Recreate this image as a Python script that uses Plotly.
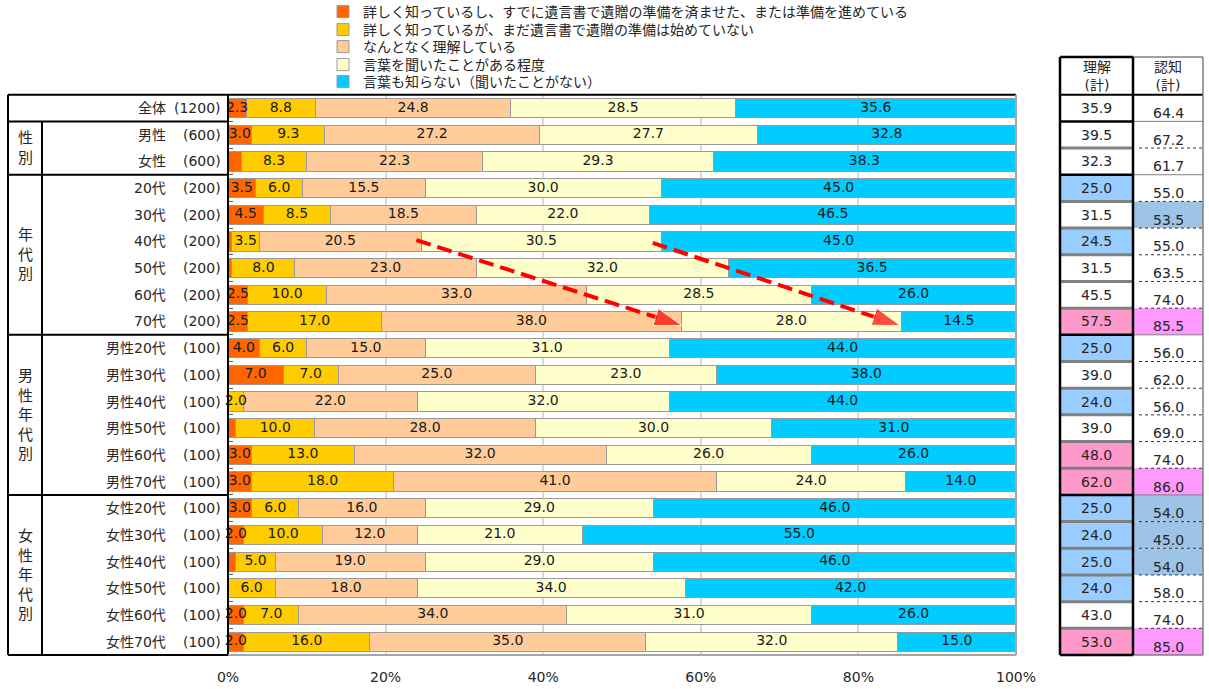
import plotly.graph_objects as go

# ---- data -----------------------------------------------------------------
row_names = ["全体", "男性", "女性", "20代", "30代", "40代", "50代", "60代", "70代",
             "男性20代", "男性30代", "男性40代", "男性50代", "男性60代", "男性70代",
             "女性20代", "女性30代", "女性40代", "女性50代", "女性60代", "女性70代"]
sample_sizes = [1200, 600, 600, 200, 200, 200, 200, 200, 200,
                100, 100, 100, 100, 100, 100, 100, 100, 100, 100, 100, 100]

# (label, first row, last row) of each grouping column block
row_groups = [("性<br>別", 1, 2), ("年<br>代<br>別", 3, 8),
              ("男<br>性<br>年<br>代<br>別", 9, 14), ("女<br>性<br>年<br>代<br>別", 15, 20)]

series_names = ["詳しく知っているし、すでに遺言書で遺贈の準備を済ませた、または準備を進めている",
                "詳しく知っているが、まだ遺言書で遺贈の準備は始めていない",
                "なんとなく理解している",
                "言葉を聞いたことがある程度",
                "言葉も知らない（聞いたことがない）"]
series_colors = ["#FF6600", "#FFCC00", "#FFCC99", "#FFFFCC", "#00CCFF"]

detail_prepared = [2.3, 3.0, 1.7, 3.5, 4.5, 0.5, 0.5, 2.5, 2.5,
                   4.0, 7.0, 0.0, 1.0, 3.0, 3.0, 3.0, 2.0, 1.0, 0.0, 2.0, 2.0]
detail_not_started = [8.8, 9.3, 8.3, 6.0, 8.5, 3.5, 8.0, 10.0, 17.0,
                      6.0, 7.0, 2.0, 10.0, 13.0, 18.0, 6.0, 10.0, 5.0, 6.0, 7.0, 16.0]
vaguely_understand = [24.8, 27.2, 22.3, 15.5, 18.5, 20.5, 23.0, 33.0, 38.0,
                      15.0, 25.0, 22.0, 28.0, 32.0, 41.0, 16.0, 12.0, 19.0, 18.0, 34.0, 35.0]
heard_only = [28.5, 27.7, 29.3, 30.0, 22.0, 30.5, 32.0, 28.5, 28.0,
              31.0, 23.0, 32.0, 30.0, 26.0, 24.0, 29.0, 21.0, 29.0, 34.0, 31.0, 32.0]
never_heard = [35.6, 32.8, 38.3, 45.0, 46.5, 45.0, 36.5, 26.0, 14.5,
               44.0, 38.0, 44.0, 31.0, 26.0, 14.0, 46.0, 55.0, 46.0, 42.0, 26.0, 15.0]
series_values = [detail_prepared, detail_not_started, vaguely_understand, heard_only, never_heard]

understand_total = [35.9, 39.5, 32.3, 25.0, 31.5, 24.5, 31.5, 45.5, 57.5,
                    25.0, 39.0, 24.0, 39.0, 48.0, 62.0, 25.0, 24.0, 25.0, 24.0, 43.0, 53.0]
aware_total = [64.4, 67.2, 61.7, 55.0, 53.5, 55.0, 63.5, 74.0, 85.5,
               56.0, 62.0, 56.0, 69.0, 74.0, 86.0, 54.0, 45.0, 54.0, 58.0, 74.0, 85.0]

x_ticks = [0, 20, 40, 60, 80, 100]
x_tick_labels = ["0%", "20%", "40%", "60%", "80%", "100%"]

# trend arrows: (x %, row) start and tip
arrow_starts = [(23.9, 4.95), (53.9, 5.05)]
arrow_ends = [(57.6, 8.15), (85.3, 8.15)]

# ---- geometry (pixels) ----------------------------------------------------
W, H = 1209, 689
PLOT_L, PLOT_R, PLOT_T, PLOT_B = 228, 1016, 94.7, 655
TABLE_L, GROUP_R = 8, 42
SUM_L, SUM_M, SUM_R, SUM_T = 1060, 1133, 1203, 57
FONT = "DejaVu Sans, Noto Sans CJK JP"
TXT = "#262626"

n_rows = len(row_names)
row_h = (PLOT_B - PLOT_T) / n_rows


def fx(p):
    return p / W


def fy(p):
    return 1 - p / H


def edge(k):
    return PLOT_T + k * row_h


fig = go.Figure()

rows = list(range(n_rows))
for i, (name, vals, color) in enumerate(zip(series_names, series_values, series_colors)):
    fig.add_trace(go.Bar(
        y=rows, x=vals, orientation="h", name=name,
        marker=dict(color=color, line=dict(color="#9a9a9a", width=1)),
        hoverinfo="skip",
        legend="legend" if i == 0 else f"legend{i + 1}",
    ))

# segment value labels, drawn above every bar so narrow segments can overflow
offsets = [0.0] * n_rows
for vals in series_values:
    mids = [o + v / 2 for o, v in zip(offsets, vals)]
    fig.add_trace(go.Scatter(
        x=mids, y=rows, mode="text", showlegend=False, hoverinfo="skip", cliponaxis=False,
        text=[f"{v:.1f}" if v >= 2 else "" for v in vals], textposition="middle center",
        textfont=dict(family=FONT, size=14, color="#1a1a1a"),
    ))
    offsets = [o + v for o, v in zip(offsets, vals)]

for (x0, y0), (x1, y1) in zip(arrow_starts, arrow_ends):
    fig.add_trace(go.Scatter(
        x=[x0, x1], y=[y0, y1], mode="lines+markers", showlegend=False, hoverinfo="skip",
        line=dict(color="#FF0000", width=4, dash="15px,7px"),
        marker=dict(symbol="arrow", size=[0, 29], color="#FF0000", angleref="previous"),
    ))

shapes = []


def hline(x0, x1, y, color, width, dash="solid"):
    shapes.append(dict(type="line", xref="paper", yref="paper", x0=fx(x0), x1=fx(x1),
                       y0=fy(y), y1=fy(y), line=dict(color=color, width=width, dash=dash)))


def vline(x, y0, y1, color, width):
    shapes.append(dict(type="line", xref="paper", yref="paper", x0=fx(x), x1=fx(x),
                       y0=fy(y0), y1=fy(y1), line=dict(color=color, width=width)))


def rect(x0, x1, y0, y1, fill):
    shapes.append(dict(type="rect", xref="paper", yref="paper", x0=fx(x0), x1=fx(x1),
                       y0=fy(y0), y1=fy(y1), fillcolor=fill, line=dict(width=0), layer="below"))


# summary column highlights relative to the total row
base_u, base_a = understand_total[0], aware_total[0]
for r in range(1, n_rows):
    u, a = understand_total[r], aware_total[r]
    if u <= base_u - 10:
        rect(SUM_L, SUM_M, edge(r), edge(r + 1), "#99CCFF")
    elif u >= base_u + 10:
        rect(SUM_L, SUM_M, edge(r), edge(r + 1), "#FF99CC")
    if a <= base_a - 10:
        rect(SUM_M, SUM_R, edge(r), edge(r + 1), "#9DC3E6")
    elif a >= base_a + 10:
        rect(SUM_M, SUM_R, edge(r), edge(r + 1), "#FF99FF")

group_edges = sorted(set([1] + [g[1] for g in row_groups]))

# left label table
hline(TABLE_L, PLOT_R, edge(0), "#000000", 2)
hline(TABLE_L, PLOT_L, edge(n_rows), "#000000", 2)
vline(TABLE_L, edge(0), edge(n_rows), "#000000", 2)
vline(PLOT_L, edge(0), edge(n_rows), "#000000", 2)
vline(GROUP_R, edge(1), edge(n_rows), "#000000", 2)
for k in group_edges:
    hline(TABLE_L, PLOT_L, edge(k), "#000000", 2)

# chart frame
vline(PLOT_R, edge(0), edge(n_rows), "#a6a6a6", 2)
hline(PLOT_L, PLOT_R, edge(n_rows), "#a6a6a6", 2)

# right summary table
for k in range(1, n_rows):
    if k in group_edges:
        hline(SUM_L, SUM_M, edge(k), "#000000", 2.5)
        hline(SUM_M, SUM_R, edge(k), "#7f7f7f", 1)
    else:
        hline(SUM_L, SUM_M, edge(k), "#808080", 3)
        hline(SUM_M + 6, SUM_R, edge(k), "#333333", 1, "dot")
hline(SUM_L, SUM_M, SUM_T, "#000000", 2.5)
hline(SUM_M, SUM_R, SUM_T, "#7f7f7f", 1.5)
hline(SUM_L, SUM_R, edge(0), "#000000", 2)
hline(SUM_L, SUM_M, edge(n_rows), "#000000", 2.5)
hline(SUM_M, SUM_R, edge(n_rows), "#7f7f7f", 1.5)
vline(SUM_L, SUM_T, edge(n_rows), "#000000", 2.5)
vline(SUM_M, SUM_T, edge(n_rows), "#000000", 2.5)
vline(SUM_R, SUM_T, edge(n_rows), "#7f7f7f", 1.5)

annotations = []


def label(text, x, y, xanchor="center", yshift=0, size=14):
    annotations.append(dict(text=text, x=fx(x), y=y, xref="paper", yref="y",
                             xanchor=xanchor, yanchor="middle", showarrow=False, yshift=yshift,
                             font=dict(family=FONT, size=size, color=TXT)))


for r, (name, n) in enumerate(zip(row_names, sample_sizes)):
    label(name, 168, r, "right")
    label(f"({n})", 223, r, "right")
    label(f"{understand_total[r]:.1f}", (SUM_L + SUM_M) / 2, r)
    label(f"{aware_total[r]:.1f}", (SUM_M + SUM_R) / 2, r, yshift=-5)

for text, r0, r1 in row_groups:
    label(text, (TABLE_L + GROUP_R) / 2, (r0 + r1) / 2, size=15)

for text, xc in [("理解<br>(計)", (SUM_L + SUM_M) / 2), ("認知<br>(計)", (SUM_M + SUM_R) / 2)]:
    annotations.append(dict(text=text, x=fx(xc), y=fy((SUM_T + edge(0)) / 2), xref="paper",
                            yref="paper", xanchor="center", yanchor="middle", showarrow=False,
                            font=dict(family=FONT, size=14, color=TXT)))

layout = dict(
    width=W, height=H, margin=dict(l=0, r=0, t=0, b=0, pad=0, autoexpand=False),
    barmode="stack", bargap=0.28,
    plot_bgcolor="white", paper_bgcolor="white",
    font=dict(family=FONT, size=14, color=TXT),
    xaxis=dict(domain=[fx(PLOT_L), fx(PLOT_R)], range=[0, 100], tickvals=x_ticks,
               ticktext=x_tick_labels, showgrid=True, gridcolor="#D9D9D9", gridwidth=1.5,
               zeroline=False, showline=False, ticks="", ticklabelstandoff=12,
               automargin=False, tickfont=dict(family=FONT, size=14, color=TXT)),
    yaxis=dict(domain=[fy(PLOT_B), fy(PLOT_T)], range=[n_rows - 0.5, -0.5],
               tickvals=[k - 0.5 for k in range(n_rows + 1)], ticks="inside", ticklen=5,
               tickcolor="#595959", showticklabels=False, showgrid=False, zeroline=False,
               automargin=False),
    shapes=shapes, annotations=annotations,
)

legend_rows_px = [12, 30, 47, 65, 82]
for i, ypx in enumerate(legend_rows_px):
    key = "legend" if i == 0 else f"legend{i + 1}"
    layout[key] = dict(x=fx(323), y=fy(ypx), xref="container", yref="container",
                       xanchor="left", yanchor="middle",
                       bgcolor="rgba(0,0,0,0)", borderwidth=0,
                       font=dict(family=FONT, size=14, color=TXT))

fig.update_layout(**layout)
fig.write_html("out.html")
